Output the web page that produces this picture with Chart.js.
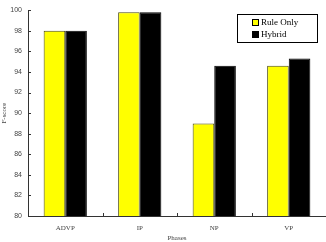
<!DOCTYPE html>
<html>
<head>
<meta charset="utf-8">
<script src="https://cdn.jsdelivr.net/npm/chart.js@4"></script>
<style>
  html, body { margin: 0; padding: 0; background: #fff; }
  #wrap { width: 326px; height: 242px; }
</style>
</head>
<body>
<div id="wrap"><canvas id="chart" width="326" height="242"></canvas></div>
<script>
const phases = ['ADVP', 'IP', 'NP', 'VP'];
const ruleOnly = [98.0, 99.8, 89.0, 94.6];
const hybrid = [98.0, 99.8, 94.6, 95.3];
const seriesNames = ['Rule Only', 'Hybrid'];

// little inward tick marks like the original plot
const innerTicks = {
  id: 'innerTicks',
  afterDraw(chart) {
    const ctx = chart.ctx;
    const x = chart.scales.x, y = chart.scales.y;
    const area = chart.chartArea;
    ctx.save();
    ctx.strokeStyle = '#333';
    ctx.lineWidth = 1;
    ctx.beginPath();
    y.ticks.forEach((t, i) => {
      const py = Math.round(y.getPixelForTick(i)) + 0.5;
      ctx.moveTo(area.left, py);
      ctx.lineTo(area.left + 3, py);
    });
    for (let i = 1; i < phases.length; i++) {
      const px = Math.round((x.getPixelForValue(i - 1) + x.getPixelForValue(i)) / 2) + 0.5;
      ctx.moveTo(px, area.bottom);
      ctx.lineTo(px, area.bottom - 3);
    }
    ctx.stroke();
    ctx.restore();
  }
};

// boxed legend inside the plot, top right
const boxLegend = {
  id: 'boxLegend',
  afterDraw(chart) {
    const ctx = chart.ctx;
    const bx = 237, by = 14, bw = 80, bh = 28;
    ctx.save();
    ctx.fillStyle = '#fff';
    ctx.fillRect(bx, by, bw, bh);
    ctx.strokeStyle = '#000';
    ctx.lineWidth = 1;
    ctx.strokeRect(bx + 0.5, by + 0.5, bw, bh);
    ctx.font = '9px "Liberation Serif"';
    ctx.textBaseline = 'middle';
    chart.data.datasets.forEach((ds, i) => {
      const cy = by + 8 + i * 12;
      ctx.fillStyle = ds.backgroundColor;
      ctx.fillRect(252, cy - 3, 7, 7);
      ctx.strokeStyle = '#000';
      ctx.strokeRect(252.5, cy - 2.5, 6, 6);
      ctx.fillStyle = '#000';
      ctx.fillText(ds.label, 261, cy + 1);
    });
    ctx.restore();
  }
};

new Chart(document.getElementById('chart'), {
  type: 'bar',
  data: {
    labels: phases,
    datasets: [
      { label: seriesNames[0], data: ruleOnly, backgroundColor: '#ffff00', borderColor: '#4a4a10', borderWidth: 1, borderSkipped: 'bottom' },
      { label: seriesNames[1], data: hybrid, backgroundColor: '#000000', borderColor: '#000000', borderWidth: 1, borderSkipped: 'bottom' }
    ]
  },
  options: {
    responsive: false,
    animation: false,
    devicePixelRatio: 1,
    layout: { padding: { top: 4, right: 0, left: 0, bottom: 0 } },
    plugins: {
      legend: { display: false },
      tooltip: { enabled: false }
    },
    datasets: { bar: { categoryPercentage: 0.58, barPercentage: 1.0 } },
    scales: {
      x: {
        grid: { display: false, drawTicks: false },
        border: { display: true, color: '#333', width: 1 },
        ticks: { color: '#444', font: { family: 'Liberation Serif', size: 7 }, padding: 8 },
        title: { display: true, text: 'Phases', color: '#444', font: { family: 'Liberation Serif', size: 7 }, padding: 0 },
        afterFit(s) { s.height = 26; }
      },
      y: {
        min: 80, max: 100,
        grid: { display: false, drawTicks: false },
        border: { display: true, color: '#333', width: 1 },
        ticks: { stepSize: 2, color: '#444', font: { family: 'Liberation Sans', size: 7 }, padding: 6 },
        title: { display: true, text: 'F-score', color: '#444', font: { family: 'Liberation Serif', size: 7 }, padding: 0 },
        afterFit(s) { s.width = 28; }
      }
    }
  },
  plugins: [innerTicks, boxLegend]
});
</script>
</body>
</html>
